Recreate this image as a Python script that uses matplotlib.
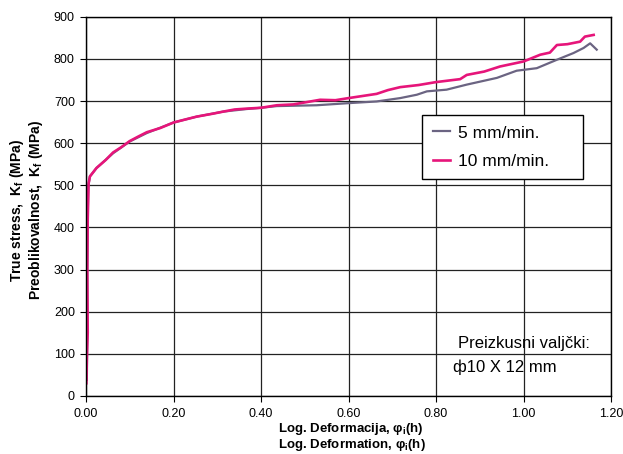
import numpy as np
import matplotlib.pyplot as plt

plt.rcParams['font.family'] = ['Liberation Sans', 'DejaVu Sans']

# 5 mm/min (smooth grey curve)
x_5 = [0.002, 0.003, 0.003, 0.004, 0.005, 0.009, 0.024, 0.062, 0.100, 0.139,
       0.200, 0.253, 0.314, 0.367, 0.400, 0.436, 0.527, 0.600, 0.664, 0.718,
       0.756, 0.779, 0.824, 0.870, 0.939, 0.984, 1.030, 1.076, 1.114, 1.137,
       1.152, 1.167]
y_5 = [38, 150, 300, 420, 495, 521, 541, 576, 604, 624,
       649, 663, 675, 681, 684, 688, 690, 695, 699, 707,
       715, 723, 727, 739, 755, 772, 778, 798, 814, 826,
       837, 822]

# 10 mm/min (noisy magenta curve)
x_10 = [0.001, 0.002, 0.004, 0.003, 0.004, 0.006, 0.009, 0.024, 0.045, 0.062,
        0.080, 0.100, 0.120, 0.139, 0.170, 0.200, 0.230, 0.253, 0.290, 0.314,
        0.340, 0.367, 0.400, 0.436, 0.474, 0.535, 0.570, 0.600, 0.664, 0.690,
        0.718, 0.760, 0.800, 0.855, 0.870, 0.910, 0.946, 1.000, 1.038, 1.060,
        1.076, 1.100, 1.129, 1.140, 1.160]
y_10 = [30, 90, 150, 300, 420, 505, 521, 541, 560, 578,
        590, 605, 616, 626, 636, 649, 657, 663, 670, 675,
        680, 682, 684, 690, 692, 703, 702, 707, 717, 726,
        733, 738, 745, 752, 762, 770, 782, 794, 810, 815,
        833, 835, 841, 853, 857]

fig = plt.figure(figsize=(6.23, 4.54), dpi=100)
ax = fig.add_axes([0.138, 0.128, 0.843, 0.835])

ax.plot(x_5, y_5, color='#6B6482', lw=1.6, label='5 mm/min.')
ax.plot(x_10, y_10, color='#E6157A', lw=1.9, label='10 mm/min.')

ax.set_xlim(0, 1.2)
ax.set_ylim(0, 900)
ax.set_xticks(np.arange(0, 1.21, 0.2))
ax.set_xticklabels([f'{v:.2f}' for v in np.arange(0, 1.21, 0.2)])
ax.set_yticks(np.arange(0, 901, 100))
ax.tick_params(labelsize=9, direction='out', length=4, color='black')
ax.tick_params(axis='x', pad=5)
ax.tick_params(axis='y', pad=4)
ax.grid(True, color='#222222', lw=0.9)
for s in ax.spines.values():
    s.set_color('black')
    s.set_linewidth(1.0)

leg = ax.legend(loc='upper left', bbox_to_anchor=(0.64, 0.581, 0.307, 0.16),
                mode='expand', borderaxespad=0, fontsize=12.5,
                frameon=True, fancybox=False, edgecolor='black', framealpha=1,
                handlelength=1.0, handletextpad=0.45, borderpad=0.6,
                labelspacing=0.75)
leg.get_frame().set_linewidth(1.0)

ax.text(0.85, 125, 'Preizkusni valjčki:', fontsize=12, ha='left', va='center')
ax.text(0.839, 68, 'ф10 X 12 mm', fontsize=12, ha='left', va='center')

fig.text(0.028, 0.537, 'True stress,  K$_\\mathregular{f}$ (MPa)', rotation=90,
         fontsize=10, fontweight='bold', ha='center', va='center')
fig.text(0.057, 0.537, 'Preoblikovalnost,  K$_\\mathregular{f}$ (MPa)', rotation=90,
         fontsize=10, fontweight='bold', ha='center', va='center')
fig.text(0.446, 0.054, 'Log. Deformacija, φ$_\\mathregular{i}$(h)', fontsize=9.5,
         fontweight='bold', ha='left', va='center')
fig.text(0.446, 0.019, 'Log. Deformation, φ$_\\mathregular{i}$(h)', fontsize=9.5,
         fontweight='bold', ha='left', va='center')

fig.savefig('out.png', dpi=100)
